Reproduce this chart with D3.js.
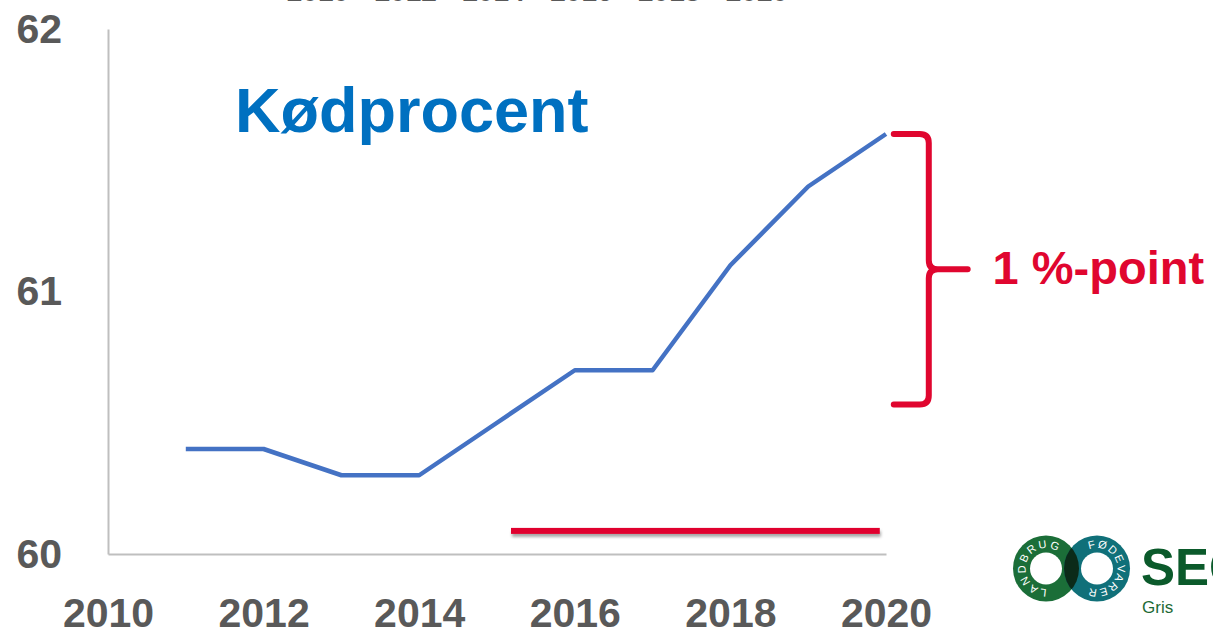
<!DOCTYPE html>
<html>
<head>
<meta charset="utf-8">
<script src="https://cdn.jsdelivr.net/npm/d3@7"></script>
<style>
  html, body { margin: 0; padding: 0; background: #ffffff; }
  svg { display: block; }
  text { font-family: "Liberation Sans", Arial, sans-serif; }
</style>
</head>
<body>
<svg id="chart" width="1213" height="630"></svg>
<script>
// ---- data ----
const years = [2011, 2012, 2013, 2014, 2015, 2016, 2017, 2018, 2019, 2020];
const meatPct = [60.4, 60.4, 60.3, 60.3, 60.5, 60.7, 60.7, 61.1, 61.4, 61.6];
const xTickYears = [2010, 2012, 2014, 2016, 2018, 2020];
const yTickValues = [60, 61, 62];
const topCutLabels = ["2010", "2012", "2014", "2016", "2018", "2020"];
const title = "Kødprocent";
const braceLabel = "1 %-point";
// annotation positions in data units
const braceTop = 61.6, braceBottom = 60.57;
const redLineYears = [2015.18, 2019.92];
const redLineValue = 60.088;

// ---- layout ----
const svg = d3.select("#chart");
const x = d3.scaleLinear().domain([2010, 2020]).range([108, 886]);
const y = d3.scaleLinear().domain([60, 62]).range([554, 29]);

const axisColor = "#bfbfbf";
const labelColor = "#595959";
const red = "#e0062f";

// drop shadow filter
const defs = svg.append("defs");
const f = defs.append("filter").attr("id", "shadow")
  .attr("filterUnits", "userSpaceOnUse")
  .attr("x", 0).attr("y", 0).attr("width", 1213).attr("height", 630);
f.append("feDropShadow").attr("dx", 1).attr("dy", 3).attr("stdDeviation", 1.6).attr("flood-color", "#000").attr("flood-opacity", 0.35);

// cut-off labels at the very top
const topScale = d3.scalePoint().domain(topCutLabels).range([318, 757]);
svg.append("g").selectAll("text").data(topCutLabels).join("text")
  .attr("x", d => topScale(d)).attr("y", 1.2)
  .attr("text-anchor", "middle")
  .attr("font-size", 28).attr("font-weight", "bold")
  .attr("fill", labelColor)
  .text(d => d);

// y axis
const yAxis = svg.append("g").attr("transform", `translate(${x(2010)},0)`)
  .call(d3.axisLeft(y).tickValues(yTickValues).tickFormat(d3.format("d")).tickSize(0).tickPadding(46));
yAxis.select(".domain").attr("stroke", axisColor).attr("stroke-width", 2);
yAxis.selectAll("text").attr("font-size", 41).attr("font-weight", "bold").attr("fill", labelColor)
  .attr("font-family", "Liberation Sans, Arial, sans-serif");

// x axis
const xAxis = svg.append("g").attr("transform", `translate(0,${y(60)})`)
  .call(d3.axisBottom(x).tickValues(xTickYears).tickFormat(d3.format("d")).tickSize(0).tickPadding(44));
xAxis.select(".domain").attr("stroke", axisColor).attr("stroke-width", 2);
xAxis.selectAll("text").attr("font-size", 41).attr("font-weight", "bold").attr("fill", labelColor)
  .attr("font-family", "Liberation Sans, Arial, sans-serif");

// red horizontal line (as a rect, so the shadow filter has an area)
const lineH = 6;
svg.append("rect")
  .attr("x", x(redLineYears[0])).attr("width", x(redLineYears[1]) - x(redLineYears[0]))
  .attr("y", y(redLineValue) - lineH / 2).attr("height", lineH)
  .attr("fill", red)
  .attr("filter", "url(#shadow)");

// data line
const line = d3.line().x((d, i) => x(years[i])).y(d => y(d));
svg.append("path").datum(meatPct)
  .attr("d", line)
  .attr("fill", "none")
  .attr("stroke", "#4472c4")
  .attr("stroke-width", 4.5)
  .attr("stroke-linejoin", "round");

// title
svg.append("text").attr("x", 235).attr("y", 132)
  .attr("font-size", 63).attr("font-weight", "bold").attr("fill", "#0070c0")
  .text(title);

// brace
const bx0 = x(2020.1), bxv = x(2020.55), bxTip = x(2021.05);
const by0 = y(braceTop), by1 = y(braceBottom), byM = (by0 + by1) / 2;
const r = 9;
const bracePath = `M${bx0},${by0} L${bxv - r},${by0} Q${bxv},${by0} ${bxv},${by0 + r} L${bxv},${byM - r} Q${bxv},${byM} ${bxv + r},${byM} L${bxTip},${byM} M${bxv + r},${byM} Q${bxv},${byM} ${bxv},${byM + r} L${bxv},${by1 - r} Q${bxv},${by1} ${bxv - r},${by1} L${bx0},${by1}`;
svg.append("path").attr("d", bracePath)
  .attr("fill", "none").attr("stroke", red).attr("stroke-width", 6)
  .attr("stroke-linecap", "round").attr("stroke-linejoin", "round");

svg.append("text").attr("x", x(2021.37)).attr("y", byM + 15)
  .attr("font-size", 47).attr("font-weight", "bold").attr("fill", red)
  .text(braceLabel);

// ---- logo ----
const logo = svg.append("g");
const cy = 568.5, cL = 1046, cR = 1097, R = 33, Ri = 16;
logo.append("circle").attr("cx", cL).attr("cy", cy).attr("r", R).attr("fill", "#1b6e38");
logo.append("circle").attr("cx", cR).attr("cy", cy).attr("r", R).attr("fill", "#107079");
defs.append("clipPath").attr("id", "clipL").append("circle").attr("cx", cL).attr("cy", cy).attr("r", R);
logo.append("circle").attr("cx", cR).attr("cy", cy).attr("r", R).attr("fill", "#0b2b19").attr("clip-path", "url(#clipL)");
logo.append("circle").attr("cx", cL).attr("cy", cy).attr("r", Ri).attr("fill", "#fff");
logo.append("circle").attr("cx", cR).attr("cy", cy).attr("r", Ri).attr("fill", "#fff");

function arcPath(cx, cyy, rad, a0, a1) {
  const p = a => [cx + rad * Math.sin(a * Math.PI / 180), cyy - rad * Math.cos(a * Math.PI / 180)];
  const s = p(a0), e = p(a1);
  const large = (a1 - a0) > 180 ? 1 : 0;
  return `M${s[0]},${s[1]} A${rad},${rad} 0 ${large} 1 ${e[0]},${e[1]}`;
}
const ringTexts = [
  { id: "arcL", cx: cL, a0: 178, a1: 392, text: "LANDBRUG" },
  { id: "arcR", cx: cR, a0: -22, a1: 200, text: "FØDEVARER" }
];
const rb = 20.5;
ringTexts.forEach(t => {
  defs.append("path").attr("id", t.id).attr("d", arcPath(t.cx, cy, rb, t.a0, t.a1));
  const len = rb * (t.a1 - t.a0) * Math.PI / 180;
  logo.append("text").attr("font-size", 11).attr("fill", "#fff")
    .append("textPath").attr("href", "#" + t.id)
    .attr("textLength", len).attr("lengthAdjust", "spacing")
    .text(t.text);
});
logo.append("text").attr("x", 1141).attr("y", 585)
  .attr("font-size", 51).attr("font-weight", "bold").attr("fill", "#0b5a2b")
  .text("SEGES");
logo.append("text").attr("x", 1142).attr("y", 613)
  .attr("font-size", 17).attr("fill", "#1d6a35")
  .text("Gris");
</script>
</body>
</html>
